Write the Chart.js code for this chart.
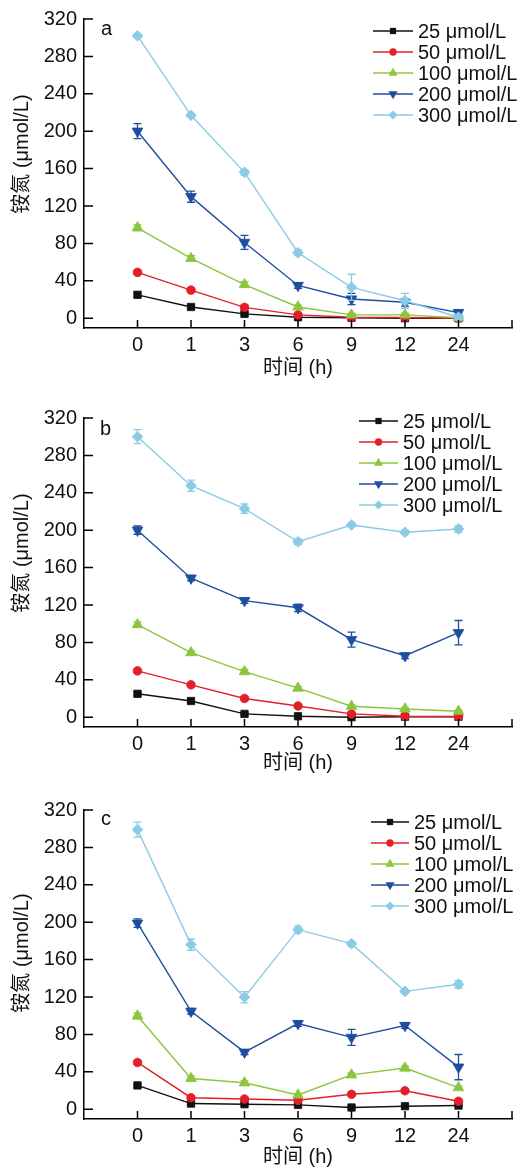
<!DOCTYPE html>
<html>
<head>
<meta charset="utf-8">
<script src="https://cdn.jsdelivr.net/npm/chart.js@4"></script>
<style>
  html, body { margin: 0; padding: 0; background: #fff; overflow: hidden; }
  #wrap { position: relative; width: 520px; height: 1169px; }
  #wrap canvas { position: absolute; left: 0; }
</style>
</head>
<body>
<div id="wrap">
  <canvas id="panel-a" width="520" height="390" style="top:0px"></canvas>
  <canvas id="panel-b" width="520" height="390" style="top:399px"></canvas>
  <canvas id="panel-c" width="520" height="390" style="top:791px"></canvas>
</div>
<script>
const timeLabels = ['0', '1', '3', '6', '9', '12', '24'];
const seriesLabels = ['25 μmol/L', '50 μmol/L', '100 μmol/L', '200 μmol/L', '300 μmol/L'];
const yTicks = [0, 40, 80, 120, 160, 200, 240, 280, 320];

// panel a
const a25 = [25, 12, 4.6, 1, 0.5, 0, 0];
const a50 = [49, 30, 11.6, 3.5, 1, 0.7, 0];
const a100 = [96.7, 64, 36, 12, 3.5, 3.5, 0.5];
const a200 = [200, 130, 81, 35, 20.5, 17, 6];
const a300 = [302, 217, 156, 70, 33, 18.6, 1];
const aErr25 = [2, 2, 1.5, 1, 0.5, 0.5, 0.5];
const aErr50 = [2, 2, 2, 1, 1, 1, 0.5];
const aErr100 = [3, 3, 3, 2, 1.5, 2, 1];
const aErr200 = [8, 6, 7.5, 3, 6, 4, 3];
const aErr300 = [2, 2, 3, 3, 14, 8, 3];

// panel b
const b25 = [25, 17.3, 3.5, 1, 0, 0.5, 0.5];
const b50 = [49.5, 34.6, 20, 12, 3.5, 1, 0.7];
const b100 = [99, 69, 48.7, 31, 11.7, 8.8, 6.4];
const b200 = [200, 148.7, 124.7, 117, 83, 65.7, 90.4];
const b300 = [300, 247.6, 223, 187.6, 205.6, 197.8, 201.3];
const bErr25 = [2, 2, 1, 0.5, 0.5, 0.5, 0.5];
const bErr50 = [2, 2, 2, 1.5, 1, 1, 0.5];
const bErr100 = [3, 2, 2.5, 2, 1.5, 1, 1];
const bErr200 = [4.5, 3, 3, 4, 8, 3, 13];
const bErr300 = [7.5, 6, 5, 3, 2, 2, 3.5];

// panel c
const c25 = [25.4, 6, 5.3, 4.6, 1.8, 3.2, 3.9];
const c50 = [50, 12.3, 10.9, 9.5, 15.9, 19.7, 8.5];
const c100 = [99.7, 32.8, 28.2, 15.2, 36.7, 44, 23];
const c200 = [199, 104.7, 61, 91.6, 76.8, 89.5, 45];
const c300 = [299, 176, 119.8, 192, 177, 126, 133.6];
const cErr25 = [1.5, 1, 1, 1, 1, 1, 0.5];
const cErr50 = [2, 1.5, 1, 1, 1.5, 1.5, 1];
const cErr100 = [3, 2.5, 2, 1.5, 2, 2, 1.5];
const cErr200 = [4.5, 3, 2.5, 3, 8.5, 3, 13.5];
const cErr300 = [8, 6, 6, 3.5, 2.5, 2, 4];

const colors = ['#111111', '#e3202a', '#8cc63e', '#1f4e9f', '#8ccbe5'];
const markers = [
    { pointStyle: 'rect', radius: 5.2, rotation: 0 },
    { pointStyle: 'circle', radius: 4.3, rotation: 0 },
    { pointStyle: 'triangle', radius: 6.2, rotation: 0 },
    { pointStyle: 'triangle', radius: 6.2, rotation: 180 },
    { pointStyle: 'rectRot', radius: 5.4, rotation: 0 }
];

const FONT = '"Liberation Sans", Arial, "Noto Sans CJK SC", sans-serif';
const FONT_SIZE = 20;

// ticks pointing inward, error bars, legend and text labels
const decorPlugin = {
    id: 'decor',
    afterDatasetDraw(chart, args) {
        const ds = chart.data.datasets[args.index];
        const y = chart.scales.y;
        const ctx = chart.ctx;
        ctx.save();
        ctx.strokeStyle = ds.borderColor;
        ctx.lineWidth = 1.3;
        args.meta.data.forEach((pt, i) => {
            const v = ds.data[i].y, e = ds.errors[i];
            const top = y.getPixelForValue(v + e);
            const bot = y.getPixelForValue(v - e);
            ctx.beginPath();
            ctx.moveTo(pt.x, top); ctx.lineTo(pt.x, bot);
            ctx.moveTo(pt.x - 4, top); ctx.lineTo(pt.x + 4, top);
            ctx.moveTo(pt.x - 4, bot); ctx.lineTo(pt.x + 4, bot);
            ctx.stroke();
        });
        ctx.restore();
    },
    afterDraw(chart, args, opts) {
        const ctx = chart.ctx;
        const { x, y } = chart.scales;
        const area = chart.chartArea;
        ctx.save();
        ctx.strokeStyle = '#000';
        ctx.lineWidth = 1.5;
        ctx.beginPath();
        yTicks.forEach(v => {
            const py = y.getPixelForValue(v);
            ctx.moveTo(area.left, py); ctx.lineTo(area.left + 9, py);
        });
        timeLabels.forEach((_, i) => {
            const px = x.getPixelForValue(i);
            ctx.moveTo(px, area.bottom); ctx.lineTo(px, area.bottom - 8);
        });
        ctx.moveTo(area.right, area.bottom); ctx.lineTo(area.right, area.bottom - 8);
        ctx.stroke();

        // legend
        const lg = opts.legend;
        ctx.font = FONT_SIZE + 'px ' + FONT;
        ctx.textBaseline = 'middle';
        ctx.textAlign = 'left';
        chart.data.datasets.forEach((ds, i) => {
            const ly = lg.top + i * 21;
            ctx.strokeStyle = ds.borderColor;
            ctx.fillStyle = ds.borderColor;
            ctx.lineWidth = 1.4;
            ctx.beginPath();
            ctx.moveTo(lg.x0, ly); ctx.lineTo(lg.x1, ly);
            ctx.stroke();
            Chart.helpers.drawPoint(ctx, {
                pointStyle: ds.pointStyle,
                rotation: ds.pointRotation,
                radius: ds.pointRadius * 0.85,
                borderWidth: 0
            }, (lg.x0 + lg.x1) / 2, ly);
            ctx.fillStyle = '#111';
            ctx.fillText(ds.label, lg.x1 + 5, ly + 1);
        });

        // panel letter and axis titles
        ctx.fillStyle = '#111';
        ctx.fillText(opts.letter, opts.letterX, opts.letterY);
        ctx.textAlign = 'center';
        ctx.fillText('时间 (h)', (area.left + area.right) / 2, opts.xTitleY);
        ctx.translate(22, opts.yTitleY);
        ctx.rotate(-Math.PI / 2);
        ctx.fillText('铵氮 (μmol/L)', 0, 0);
        ctx.restore();
    }
};

function makePanel(id, values, errors, decor) {
    const datasets = values.map((vals, i) => ({
        label: seriesLabels[i],
        data: vals.map((v, k) => ({ x: k, y: v })),
        errors: errors[i],
        borderColor: colors[i],
        backgroundColor: colors[i],
        borderWidth: 1.4,
        pointStyle: markers[i].pointStyle,
        pointRadius: markers[i].radius,
        pointRotation: markers[i].rotation,
        pointBorderWidth: 0.8,
        pointBorderColor: colors[i],
        pointHoverRadius: markers[i].radius,
        order: 5 - i,
        tension: 0
    }));

    new Chart(document.getElementById(id).getContext('2d'), {
        type: 'line',
        data: { datasets },
        options: {
            responsive: false,
            animation: false,
            layout: { padding: { left: 0, right: 8, top: 15, bottom: 0 } },
            plugins: {
                legend: { display: false },
                tooltip: { enabled: false },
                decor
            },
            scales: {
                x: {
                    type: 'linear',
                    min: -1,
                    max: 7,
                    afterBuildTicks: s => { s.ticks = timeLabels.map((_, i) => ({ value: i })); },
                    afterFit: s => { s.height = 62; },
                    grid: { display: false, drawTicks: false },
                    border: { display: true, color: '#000', width: 1.5 },
                    ticks: {
                        autoSkip: false,
                        maxRotation: 0,
                        padding: 5,
                        color: '#111',
                        font: { size: FONT_SIZE, family: FONT },
                        callback: v => timeLabels[v]
                    }
                },
                y: {
                    min: -10.5,
                    max: 320,
                    afterBuildTicks: s => { s.ticks = yTicks.map(v => ({ value: v })); },
                    afterFit: s => { s.width = 84; },
                    grid: { display: false, drawTicks: false },
                    border: { display: true, color: '#000', width: 1.5 },
                    ticks: {
                        padding: 7,
                        color: '#111',
                        font: { size: FONT_SIZE, family: FONT }
                    }
                }
            }
        },
        plugins: [decorPlugin]
    });
}

makePanel('panel-a', [a25, a50, a100, a200, a300],
    [aErr25, aErr50, aErr100, aErr200, aErr300],
    { letter: 'a', letterX: 101, letterY: 29, xTitleY: 368, yTitleY: 154,
      legend: { x0: 373, x1: 413, top: 31 } });

makePanel('panel-b', [b25, b50, b100, b200, b300],
    [bErr25, bErr50, bErr100, bErr200, bErr300],
    { letter: 'b', letterX: 100, letterY: 30, xTitleY: 364, yTitleY: 154,
      legend: { x0: 359, x1: 398, top: 22 } });

makePanel('panel-c', [c25, c50, c100, c200, c300],
    [cErr25, cErr50, cErr100, cErr200, cErr300],
    { letter: 'c', letterX: 101, letterY: 28, xTitleY: 366, yTitleY: 162,
      legend: { x0: 371, x1: 409, top: 31 } });
</script>
</body>
</html>
